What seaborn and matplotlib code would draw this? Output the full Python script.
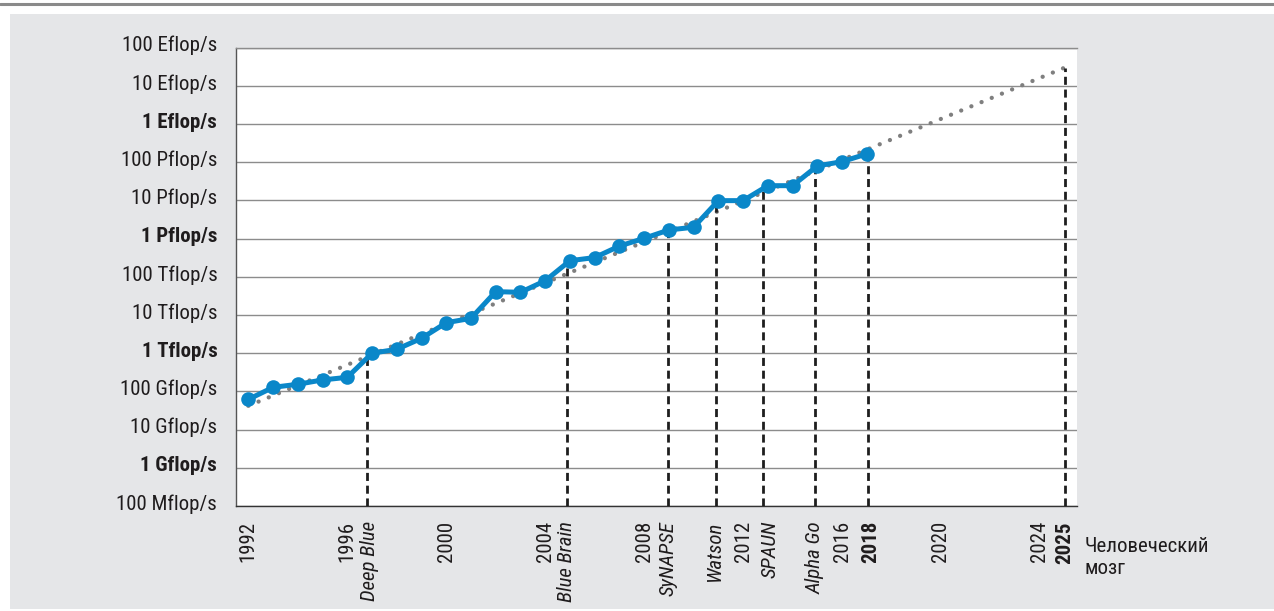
import os
import numpy as np
import pandas as pd
import matplotlib
matplotlib.use("Agg")
import matplotlib.pyplot as plt
import matplotlib.transforms as mtransforms
from matplotlib import font_manager as fm
from matplotlib.patches import Rectangle
from matplotlib.lines import Line2D
from matplotlib.ticker import FixedLocator, NullLocator
import seaborn as sns

# Peak performance of the fastest supercomputer, flop/s, by year
years = list(range(1992, 2018))
perf_flops = [6.2e10, 1.28e11, 1.54e11, 2.0e11, 2.34e11, 1.0e12, 1.27e12,
              2.46e12, 6.3e12, 8.2e12, 4.1e13, 3.94e13, 7.9e13, 2.65e14,
              3.2e14, 6.4e14, 1.02e15, 1.69e15, 1.99e15, 9.9e15, 9.9e15,
              2.44e16, 2.44e16, 8.0e16, 1.04e17, 1.65e17]

# Exponential trend extrapolated to the estimate for the human brain
trend_years = [1992, 2025]
trend_flops = [4.2e10, 3.0e19]

# Milestones in brain simulation / AI
event_names = ["Deep Blue", "Blue Brain", "SyNAPSE", "Watson", "SPAUN", "Alpha Go"]
event_years = [1996.8, 2004.87, 2008.96, 2010.92, 2012.82, 2014.92]

# Highlighted years (bold labels)
key_labels = ["2018", "2025"]
key_years = [2017.05, 2025.0]

year_labels = ["1992", "1996", "2000", "2004", "2008", "2012", "2016", "2020", "2024"]
year_ticks = [1992, 1996, 2000, 2004, 2008, 2012, 2016, 2020, 2024]

y_labels = ["100 Mflop/s", "1 Gflop/s", "10 Gflop/s", "100 Gflop/s",
            "1 Tflop/s", "10 Tflop/s", "100 Tflop/s",
            "1 Pflop/s", "10 Pflop/s", "100 Pflop/s",
            "1 Eflop/s", "10 Eflop/s", "100 Eflop/s"]
y_ticks = [10.0 ** k for k in range(8, 21)]

brain_label = "Человеческий\nмозг"


def pick_condensed_font():
    """Return (family, stretch, narrow?) of an installed narrow sans face."""
    candidates = [("Roboto Condensed", "normal"), ("Liberation Sans Narrow", "normal"),
                  ("Noto Sans", "condensed"), ("Open Sans", "condensed"),
                  ("Roboto", "condensed"), ("DejaVu Sans", "condensed")]
    for fam, stretch in candidates:
        try:
            path = fm.findfont(fm.FontProperties(family=fam, stretch=stretch),
                               fallback_to_default=False)
        except ValueError:
            continue
        name = os.path.basename(path).lower()
        if "condensed" in name or "narrow" in name:
            return fam, stretch, True
    return "Roboto", "normal", False


FAMILY, STRETCH, NARROW = pick_condensed_font()

sns.set_style("white")
plt.rcParams["font.family"] = [FAMILY, "DejaVu Sans"]
plt.rcParams["font.stretch"] = STRETCH

BLUE = "#0a87c9"
TEXT = "#1f1c1d"
GRID = "#8c8c8c"
PANEL = "#e5e6e8"
FS = 15 if NARROW else 12.5

W, H = 1274, 611
fig = plt.figure(figsize=(W / 100, H / 100), dpi=100)
fig.patch.set_facecolor("white")

# background panel and top rule
fig.patches.append(Rectangle((10 / W, 2 / H), 1 - 10 / W, (H - 16) / H,
                             transform=fig.transFigure, facecolor=PANEL,
                             edgecolor="none", zorder=-10))
fig.lines.append(Line2D([0, 1], [1 - 4 / H, 1 - 4 / H], transform=fig.transFigure,
                        color="#8a8a8a", linewidth=2.2, zorder=-5))

left, right, top, bottom = 236, 1077, 47.7, 506
ax = fig.add_axes([left / W, 1 - bottom / H, (right - left) / W, (bottom - top) / H])
ax.set_facecolor("white")

df = pd.DataFrame({"year": years, "flops": perf_flops})
tr = pd.DataFrame({"year": trend_years, "flops": trend_flops})

ax.set_yscale("log")
ax.set_xlim(1991.5, 2025.5)
ax.set_ylim(1e8, 1e20)

# dotted trend
sns.lineplot(data=tr, x="year", y="flops", ax=ax, color="#7f7f7f",
             linewidth=3.1, linestyle=(0, (0.01, 2.55)),
             dash_capstyle="round", solid_capstyle="round", zorder=2)

# dashed milestone lines, drawn up to the curve
log_perf = np.log10(perf_flops)
log_trend = np.log10(trend_flops)


def curve_value(x):
    if x <= years[-1] + 0.5:
        return 10 ** np.interp(x, years, log_perf)
    return 10 ** np.interp(x, trend_years, log_trend)


for x in list(event_years) + list(key_years):
    ax.vlines(x, 1e8, curve_value(x), colors="#1e1e1e", linewidth=2.0,
              linestyles=(0, (2.9, 1.7)), zorder=3)

# performance curve
sns.lineplot(data=df, x="year", y="flops", ax=ax, color=BLUE, linewidth=3.6,
             marker="o", markersize=10.5, markeredgewidth=0,
             markeredgecolor=BLUE, zorder=4)

ax.set_xlabel("")
ax.set_ylabel("")

# axes styling
ax.yaxis.set_major_locator(FixedLocator(y_ticks))
ax.yaxis.set_minor_locator(NullLocator())
ax.set_yticklabels(y_labels)
ax.tick_params(axis="y", length=0, pad=13.5, labelsize=FS, labelcolor=TEXT)
for lab in ax.get_yticklabels():
    if lab.get_text().startswith("1 "):
        lab.set_fontweight("bold")
    lab.set_transform(lab.get_transform() +
                      mtransforms.ScaledTranslation(0, 4 / 100, fig.dpi_scale_trans))

ax.set_xticks(np.arange(1991.5, 2025.51, 0.5))
ax.set_xticklabels([])
ax.xaxis.set_minor_locator(NullLocator())
ax.tick_params(axis="x", length=4.2, width=0.9, color="#333333", direction="out")

ax.grid(False)
ax.yaxis.grid(True, color=GRID, linewidth=1.0)
ax.spines["right"].set_visible(False)
ax.spines["top"].set_color(GRID)
ax.spines["top"].set_linewidth(1.0)
ax.spines["left"].set_color("#555555")
ax.spines["left"].set_linewidth(1.0)
ax.spines["bottom"].set_color("#333333")
ax.spines["bottom"].set_linewidth(1.0)


def xlabel(x, text, dx=0.0, **kw):
    ax.annotate(text, xy=(x, 0), xycoords=("data", "axes fraction"),
                xytext=(dx, -10.8), textcoords="offset points",
                rotation=90, ha="center", va="top", fontsize=FS,
                color=TEXT, annotation_clip=False, **kw)


# small horizontal nudges (points) so labels sit beside their dashed lines
label_dx = {"Deep Blue": 2.0, "SPAUN": 4.5, "Watson": -1.2, "2018": 2.0}

for x, t in zip(year_ticks, year_labels):
    xlabel(x, t)
for x, t in zip(event_years, event_names):
    xlabel(x, t, dx=label_dx.get(t, 0.0), fontstyle="italic")
for x, t in zip(key_years, key_labels):
    xlabel(x, t, dx=label_dx.get(t, 0.0), fontweight="bold")

fig.text(1084.5 / W, 1 - 537 / H, brain_label, ha="left", va="top",
         fontsize=FS, color=TEXT, linespacing=1.2)

fig.savefig("out.png", dpi=100, facecolor=fig.get_facecolor())
